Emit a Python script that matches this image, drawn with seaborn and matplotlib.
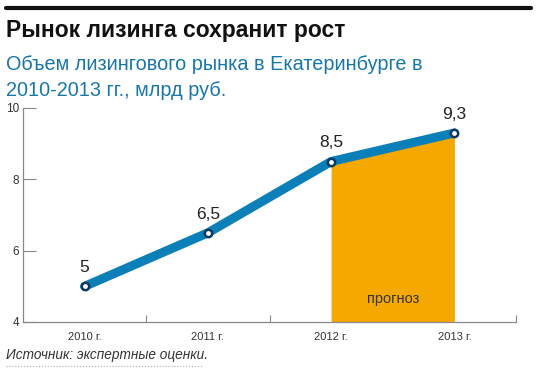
import numpy as np
import pandas as pd
import matplotlib
matplotlib.use('Agg')
import matplotlib.pyplot as plt
import seaborn as sns

# ── Data ──────────────────────────────────────────────────────────────
years = ['2010 г.', '2011 г.', '2012 г.', '2013 г.']
volume = [5.0, 6.5, 8.5, 9.3]
value_labels = ['5', '6,5', '8,5', '9,3']
forecast_from = 2
y_ticks = [4, 6, 8, 10]

title = 'Рынок лизинга сохранит рост'
subtitle = 'Объем лизингового рынка в Екатеринбурге в\n2010-2013 гг., млрд руб.'
source = 'Источник: экспертные оценки.'

# ── Style ─────────────────────────────────────────────────────────────
sns.set_style('white')
plt.rcParams['font.family'] = ['Liberation Sans', 'DejaVu Sans']

line_color = '#0a7fb8'
fill_color = '#f5a800'
edge_color = '#0d3a5c'
grey = '#888888'

df = pd.DataFrame({'x': np.arange(len(years)), 'value': volume})

fig = plt.figure(figsize=(5.36, 3.76), dpi=100)
ax = fig.add_axes([23/536, 54/376, 493/536, 214/376])

# forecast area
fc = df[df['x'] >= forecast_from]
ax.fill_between(fc['x'], 4, fc['value'], color=fill_color, lw=0, zorder=1)

sns.lineplot(data=df, x='x', y='value', ax=ax, color=line_color, lw=6.5,
             solid_capstyle='round', zorder=2)
ax.scatter(df['x'], df['value'], s=28, facecolor='white', edgecolor=edge_color,
           linewidth=1.8, zorder=3)

for xi, v, lab in zip(df['x'], df['value'], value_labels):
    ax.annotate(lab, (xi, v), xytext=(0, 8), textcoords='offset points',
                ha='center', va='bottom', fontsize=12.5, color='#222222')

ax.text((forecast_from + len(years) - 1) / 2, 4.65, 'прогноз', ha='center',
        va='center', fontsize=10.5, color='#333333')

ax.set_xlim(-0.5, len(years) - 0.5)
ax.set_ylim(4, 10)
ax.set_xlabel('')
ax.set_ylabel('')

# y axis: inside ticks on the left spine
ax.set_yticks(y_ticks)
ax.set_yticklabels([str(t) for t in y_ticks], fontsize=8.5, color='#333333')
ax.tick_params(axis='y', direction='in', length=9.5, width=0.8, color=grey,
               pad=3, left=True)

# x axis: labels at centres, tick marks at boundaries
ax.set_xticks(range(len(years)))
ax.set_xticklabels(years, fontsize=8, color='#333333')
ax.tick_params(axis='x', length=0, pad=7)
ax.set_xticks(np.arange(len(years)) + 0.5, minor=True)
ax.tick_params(axis='x', which='minor', direction='in', length=5, width=0.8,
               color=grey, bottom=True)

for side in ['top', 'right']:
    ax.spines[side].set_visible(False)
for side in ['left', 'bottom']:
    ax.spines[side].set_color(grey)
    ax.spines[side].set_linewidth(0.9)

# ── Header and footer ─────────────────────────────────────────────────
fig.add_artist(plt.Line2D([6/536, 531/536], [1 - 8/376, 1 - 8/376],
                          color='#111111', lw=3))
fig.text(6/536, 1 - 31/376, title, fontsize=16.5, fontweight='bold',
         color='#111111', va='center')
fig.text(6/536, 1 - 65/376, subtitle.split('\n')[0], fontsize=14.3,
         color='#1877a8', va='center')
fig.text(6/536, 1 - 90/376, subtitle.split('\n')[1], fontsize=14.3,
         color='#1877a8', va='center')
fig.text(6/536, 1 - 355/376, source, fontsize=9.8, style='italic',
         color='#333333', va='center')
fig.add_artist(plt.Line2D([6/536, 203/536], [1 - 366/376, 1 - 366/376],
                          color='#aaaaaa', lw=0.8, ls=':'))

fig.savefig('out.png', dpi=100)
